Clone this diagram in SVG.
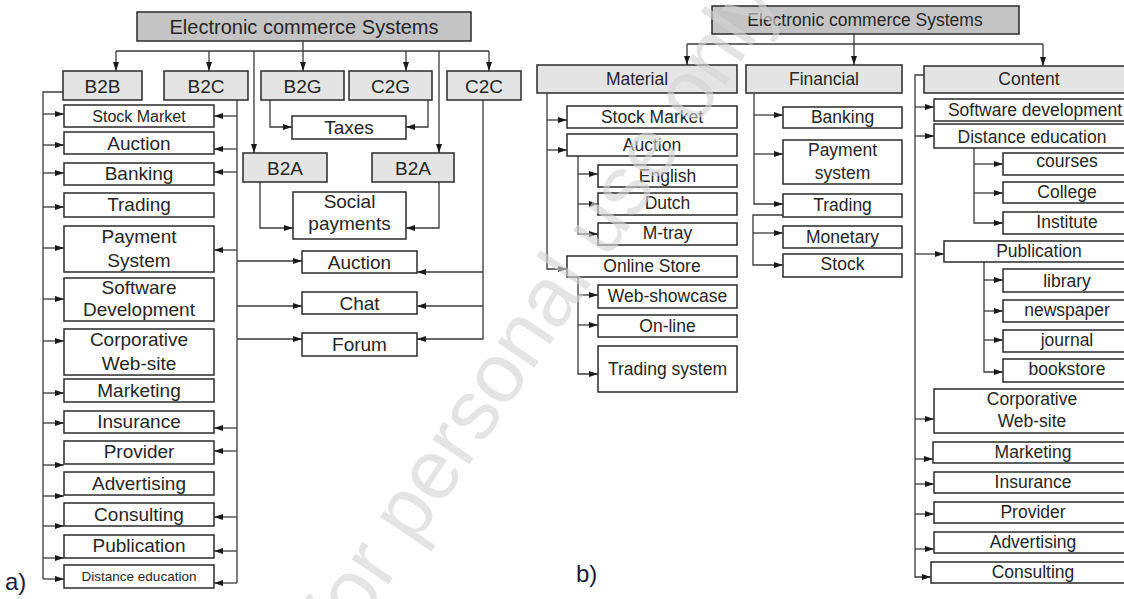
<svg xmlns="http://www.w3.org/2000/svg" width="1124" height="599" viewBox="0 0 1124 599">
<style>
text{font-family:"Liberation Sans",Arial,sans-serif;fill:#262626;text-anchor:middle}
.a text{font-size:19px}
.b text{font-size:17.5px}
rect{stroke:#2a2a2a;stroke-width:1.5;fill:#fff}
rect.g1{fill:#c4c4c4}
rect.g2{fill:#e4e4e4}
#connectors path{fill:none;stroke:#3a3a3a;stroke-width:1.3}
.ar{marker-end:url(#ah)}
.lbl{font-size:24px;text-anchor:start;fill:#1a1a3a}
.wm{font-size:84px;fill:#d4d4d4;opacity:0.62;text-anchor:start}
</style>
<defs>
<marker id="ah" markerWidth="9" markerHeight="6" refX="9" refY="3" orient="auto" markerUnits="userSpaceOnUse">
<path d="M0,0 L9,3 L0,6 z" fill="#1a1a1a"/>
</marker>
</defs>
<rect x="0" y="0" width="1124" height="599" style="fill:#fff;stroke:none"/>

<g id="connectors">
<!-- a) -->
<path d="M116,51 H489"/>
<path class="ar" d="M116,51 V71"/>
<path class="ar" d="M209,51 V71"/>
<path class="ar" d="M303,41 V71"/>
<path class="ar" d="M406,51 V71"/>
<path class="ar" d="M489,51 V71"/>
<path class="ar" d="M254,51 V153"/>
<path class="ar" d="M439,51 V153"/>
<path class="ar" d="M270,100 V127 H292"/>
<path class="ar" d="M428,100 V127 H406"/>
<path class="ar" d="M260,182 V228 H293"/>
<path class="ar" d="M439,182 V228 H406"/>
<path class="ar" d="M483,100 V339 H417"/>
<path class="ar" d="M483,272 H417"/>
<path class="ar" d="M483,306 H417"/>
<path class="ar" d="M237,261 H302"/>
<path class="ar" d="M237,306 H302"/>
<path class="ar" d="M237,339 H302"/>
<path d="M63,92 H43 V579"/>
<path d="M237,100 V583"/>
<path class="ar" d="M43,114 H64"/>
<path class="ar" d="M43,145 H64"/>
<path class="ar" d="M43,173 H64"/>
<path class="ar" d="M43,207 H64"/>
<path class="ar" d="M43,248 H64"/>
<path class="ar" d="M43,299 H64"/>
<path class="ar" d="M43,341 H64"/>
<path class="ar" d="M43,393 H64"/>
<path class="ar" d="M43,423 H64"/>
<path class="ar" d="M43,465 H64"/>
<path class="ar" d="M43,496 H64"/>
<path class="ar" d="M43,526 H64"/>
<path class="ar" d="M43,558 H64"/>
<path class="ar" d="M43,579 H64"/>
<path class="ar" d="M237,116 H214"/>
<path class="ar" d="M237,149 H214"/>
<path class="ar" d="M237,172 H214"/>
<path class="ar" d="M237,250 H214"/>
<path class="ar" d="M237,428 H214"/>
<path class="ar" d="M237,451 H214"/>
<path class="ar" d="M237,517 H214"/>
<path class="ar" d="M237,551 H214"/>
<path class="ar" d="M237,583 H214"/>
<!-- b) -->
<path d="M687,44 H1043"/>
<path class="ar" d="M854,34 V65"/>
<path class="ar" d="M687,44 V65"/>
<path class="ar" d="M1043,44 V66"/>
<path class="ar" d="M547,93 V269 H567"/>
<path class="ar" d="M547,120 H567"/>
<path class="ar" d="M547,150 H567"/>
<path class="ar" d="M578,156 V234 H598"/>
<path class="ar" d="M578,174 H598"/>
<path class="ar" d="M578,204 H598"/>
<path class="ar" d="M578,277 V374 H598"/>
<path class="ar" d="M578,295 H598"/>
<path class="ar" d="M578,325 H598"/>
<path class="ar" d="M754,93 V204 H783"/>
<path class="ar" d="M754,115 H783"/>
<path class="ar" d="M754,154 H783"/>
<path class="ar" d="M783,215 H753 V265 H783"/>
<path class="ar" d="M753,233 H783"/>
<path class="ar" d="M924,75 H915 V577 H931"/>
<path class="ar" d="M915,107 H934"/>
<path class="ar" d="M915,136 H934"/>
<path class="ar" d="M915,254 H944"/>
<path class="ar" d="M915,419 H934"/>
<path class="ar" d="M915,459 H933"/>
<path class="ar" d="M915,484 H934"/>
<path class="ar" d="M915,514 H934"/>
<path class="ar" d="M915,549 H934"/>
<path class="ar" d="M974,148 V223 H1003"/>
<path class="ar" d="M974,164 H1003"/>
<path class="ar" d="M974,193 H1003"/>
<path class="ar" d="M984,262 V372 H1003"/>
<path class="ar" d="M984,280 H1003"/>
<path class="ar" d="M984,311 H1003"/>
<path class="ar" d="M984,340 H1003"/>
</g>

<g class="a">
<g id="a-root"><rect class="g1" x="137" y="12" width="334" height="29"/><text x="304" y="34" style="font-size:20px">Electronic commerce Systems</text></g>
<g id="a-b2b"><rect class="g2" x="63" y="71" width="79" height="29"/><text x="102.5" y="92.5">B2B</text></g>
<g id="a-b2c"><rect class="g2" x="164" y="71" width="84" height="29"/><text x="206" y="92.5">B2C</text></g>
<g id="a-b2g"><rect class="g2" x="261" y="71" width="83" height="29"/><text x="302.5" y="92.5">B2G</text></g>
<g id="a-c2g"><rect class="g2" x="349" y="71" width="83" height="29"/><text x="390.5" y="92.5">C2G</text></g>
<g id="a-c2c"><rect class="g2" x="447" y="71" width="74" height="29"/><text x="484" y="92.5">C2C</text></g>
<g id="a-taxes"><rect x="292" y="116" width="114" height="23"/><text x="349" y="134">Taxes</text></g>
<g id="a-b2a1"><rect class="g2" x="243" y="153" width="84" height="29"/><text x="285" y="174.5">B2A</text></g>
<g id="a-b2a2"><rect class="g2" x="372" y="153" width="82" height="29"/><text x="413" y="174.5">B2A</text></g>
<g id="a-social"><rect x="293" y="192" width="113" height="47"/><text x="349.5" y="208">Social</text><text x="349.5" y="230">payments</text></g>
<g id="a-auction2"><rect x="302" y="251" width="115" height="22"/><text x="359.5" y="269">Auction</text></g>
<g id="a-chat"><rect x="302" y="292" width="115" height="22"/><text x="359.5" y="310">Chat</text></g>
<g id="a-forum"><rect x="302" y="333" width="115" height="23"/><text x="359.5" y="351">Forum</text></g>

<g id="a-stock"><rect x="64" y="105" width="150" height="22"/><text x="139" y="122" style="font-size:16px">Stock Market</text></g>
<g id="a-auction"><rect x="64" y="132" width="150" height="22"/><text x="139" y="150">Auction</text></g>
<g id="a-banking"><rect x="64" y="163" width="150" height="22"/><text x="139" y="180">Banking</text></g>
<g id="a-trading"><rect x="64" y="193" width="150" height="24"/><text x="139" y="211">Trading</text></g>
<g id="a-payment"><rect x="64" y="226" width="150" height="46"/><text x="139" y="243">Payment</text><text x="139" y="267">System</text></g>
<g id="a-software"><rect x="64" y="278" width="150" height="43"/><text x="139" y="294">Software</text><text x="139" y="316">Development</text></g>
<g id="a-corp"><rect x="64" y="329" width="150" height="46"/><text x="139" y="346">Corporative</text><text x="139" y="370">Web-site</text></g>
<g id="a-marketing"><rect x="64" y="379" width="150" height="23"/><text x="139" y="397">Marketing</text></g>
<g id="a-insurance"><rect x="64" y="411" width="150" height="22"/><text x="139" y="428">Insurance</text></g>
<g id="a-provider"><rect x="64" y="441" width="150" height="23"/><text x="139" y="458">Provider</text></g>
<g id="a-advertising"><rect x="64" y="472" width="150" height="23"/><text x="139" y="490">Advertising</text></g>
<g id="a-consulting"><rect x="64" y="503" width="150" height="23"/><text x="139" y="521">Consulting</text></g>
<g id="a-publication"><rect x="64" y="535" width="150" height="23"/><text x="139" y="552">Publication</text></g>
<g id="a-distance"><rect x="64" y="565" width="150" height="23"/><text x="139" y="581" style="font-size:13.5px">Distance education</text></g>
</g>

<g class="b">
<g id="b-root"><rect class="g1" x="712" y="6" width="307" height="28"/><text x="865" y="26">Electronic commerce Systems</text></g>
<g id="b-material"><rect class="g2" x="537" y="65" width="200" height="28"/><text x="637" y="85">Material</text></g>
<g id="b-financial"><rect class="g2" x="746" y="65" width="156" height="28"/><text x="824" y="85">Financial</text></g>
<g id="b-content"><rect class="g2" x="924" y="66" width="210" height="27"/><text x="1029" y="85">Content</text></g>
<g id="b-stock"><rect x="567" y="106" width="170" height="22"/><text x="652" y="123">Stock Market</text></g>
<g id="b-auction"><rect x="567" y="134" width="170" height="22"/><text x="652" y="151">Auction</text></g>
<g id="b-english"><rect x="598" y="165" width="139" height="22"/><text x="667.5" y="182">English</text></g>
<g id="b-dutch"><rect x="598" y="193" width="139" height="22"/><text x="667.5" y="209">Dutch</text></g>
<g id="b-mtray"><rect x="598" y="223" width="139" height="22"/><text x="667.5" y="239">M-tray</text></g>
<g id="b-online"><rect x="567" y="256" width="170" height="21"/><text x="652" y="272">Online Store</text></g>
<g id="b-web"><rect x="598" y="285" width="139" height="23"/><text x="667.5" y="302">Web-showcase</text></g>
<g id="b-online2"><rect x="598" y="315" width="139" height="22"/><text x="667.5" y="332">On-line</text></g>
<g id="b-tradsys"><rect x="598" y="346" width="139" height="46"/><text x="667.5" y="375">Trading system</text></g>
<g id="b-banking"><rect x="783" y="107" width="119" height="21"/><text x="842.5" y="123">Banking</text></g>
<g id="b-payment"><rect x="783" y="140" width="119" height="44"/><text x="842.5" y="156">Payment</text><text x="842.5" y="179">system</text></g>
<g id="b-trading"><rect x="783" y="194" width="119" height="23"/><text x="842.5" y="211">Trading</text></g>
<g id="b-monetary"><rect x="783" y="226" width="119" height="22"/><text x="842.5" y="243">Monetary</text></g>
<g id="b-stock2"><rect x="783" y="254" width="119" height="23"/><text x="842.5" y="270">Stock</text></g>
<g id="b-software"><rect x="934" y="99" width="200" height="22"/><text x="1035" y="116">Software development</text></g>
<g id="b-distance"><rect x="934" y="124" width="200" height="24"/><text x="1032" y="143">Distance education</text></g>
<g id="b-courses"><rect x="1003" y="153" width="130" height="22"/><text x="1067" y="167">courses</text></g>
<g id="b-college"><rect x="1003" y="182" width="130" height="21"/><text x="1067" y="198">College</text></g>
<g id="b-institute"><rect x="1003" y="212" width="130" height="22"/><text x="1067" y="228">Institute</text></g>
<g id="b-publication"><rect x="944" y="241" width="190" height="21"/><text x="1039" y="257">Publication</text></g>
<g id="b-library"><rect x="1003" y="269" width="130" height="23"/><text x="1067" y="287">library</text></g>
<g id="b-newspaper"><rect x="1003" y="300" width="130" height="22"/><text x="1067" y="316">newspaper</text></g>
<g id="b-journal"><rect x="1003" y="330" width="130" height="22"/><text x="1067" y="346">journal</text></g>
<g id="b-bookstore"><rect x="1003" y="359" width="130" height="23"/><text x="1067" y="375">bookstore</text></g>
<g id="b-corp"><rect x="934" y="389" width="200" height="44"/><text x="1032" y="405">Corporative</text><text x="1032" y="427">Web-site</text></g>
<g id="b-marketing"><rect x="933" y="442" width="200" height="21"/><text x="1033" y="458">Marketing</text></g>
<g id="b-insurance"><rect x="934" y="472" width="200" height="21"/><text x="1033" y="488">Insurance</text></g>
<g id="b-provider"><rect x="934" y="502" width="200" height="21"/><text x="1033" y="518">Provider</text></g>
<g id="b-advertising"><rect x="934" y="532" width="200" height="21"/><text x="1033" y="548">Advertising</text></g>
<g id="b-consulting"><rect x="931" y="562" width="200" height="21"/><text x="1033" y="578">Consulting</text></g>
</g>

<text class="lbl" x="5" y="590">a)</text>
<text class="lbl" x="576" y="582">b)</text>
<text class="wm" x="346" y="647" transform="rotate(-56 346 647)">for personal use only</text>
</svg>
